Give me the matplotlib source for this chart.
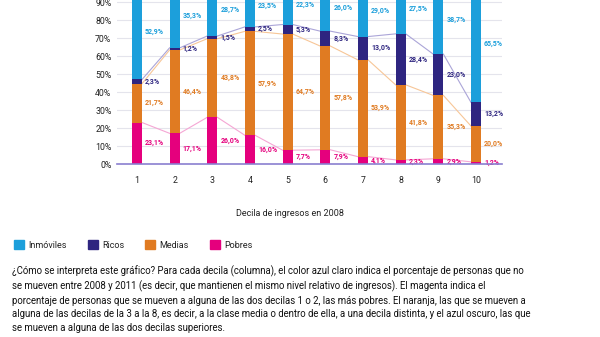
import numpy as np
import matplotlib
matplotlib.use('Agg')
import matplotlib.pyplot as plt
from matplotlib.patches import Patch

plt.rcParams['font.family'] = ['Roboto', 'DejaVu Sans']

# porcentaje de personas segun decila de ingresos en 2008
decilas = [1, 2, 3, 4, 5, 6, 7, 8, 9, 10]
pobres = [23.1, 17.1, 26.0, 16.0, 7.7, 7.9, 4.1, 2.3, 2.9, 1.2]
medias = [21.7, 46.4, 43.8, 57.9, 64.7, 57.8, 53.9, 41.8, 35.3, 20.0]
ricos = [2.3, 1.2, 1.5, 2.5, 5.3, 8.3, 13.0, 28.4, 23.0, 13.2]
inmoviles = [52.9, 35.3, 28.7, 23.5, 22.3, 26.0, 29.0, 27.5, 38.7, 65.5]
series_names = ['Inmóviles', 'Ricos', 'Medias', 'Pobres']
yticks = [0, 10, 20, 30, 40, 50, 60, 70, 80, 90, 100]

c_azul = '#1c9fdb'
c_navy = '#2e2580'
c_naranja = '#e07b22'
c_magenta = '#e5007d'
c_line = {'pobres': '#f5a6d4', 'medias': '#f7c697', 'ricos': '#aba5d8'}

fig = plt.figure(figsize=(6, 3.37), dpi=100)
ax = fig.add_axes([117/600, (337-164)/337, (502-117)/600, 179.5/337])

x = np.array(decilas, dtype=float)
w = 0.27
stack = [('pobres', pobres, c_magenta), ('medias', medias, c_naranja),
         ('ricos', ricos, c_navy), ('inmoviles', inmoviles, c_azul)]
bottom = np.zeros(len(x))
for name, vals, col in stack:
    vals = np.array(vals)
    top = bottom + vals
    ax.bar(x, vals, width=w, bottom=bottom, color=col, zorder=3, linewidth=0)
    # lineas que unen los techos de cada tramo entre columnas
    if name in c_line:
        for i in range(len(x) - 1):
            ax.plot([x[i] + w/2, x[i+1] - w/2], [top[i], top[i+1]],
                    color=c_line[name], lw=0.8, zorder=2)
    for i in range(len(x)):
        ax.text(x[i] + w/2 + 0.08, bottom[i] + vals[i]/2,
                ('%.1f%%' % vals[i]).replace('.', ','),
                color=col, fontsize=5, fontweight='bold',
                ha='left', va='center', zorder=4)
    bottom = top

ax.set_xlim(0.47, 10.69)
ax.set_ylim(0, 100)
ax.set_yticks(yticks)
ax.set_yticklabels(['%d%%' % t for t in yticks])
ax.set_xticks(x)
ax.set_xticklabels([str(d) for d in decilas])
ax.tick_params(axis='both', length=0, labelsize=6.3, colors='#222222')
ax.tick_params(axis='x', pad=8.5)
ax.tick_params(axis='y', pad=4)
ax.grid(axis='y', color='#e4e4ec', lw=0.8, zorder=0)
for s in ['top', 'right', 'left']:
    ax.spines[s].set_visible(False)
ax.spines['bottom'].set_color('#8a7fd0')
ax.spines['bottom'].set_linewidth(1.2)
ax.spines['bottom'].set_zorder(5)

fig.text(290/600, 1 - 213/337, 'Decila de ingresos en 2008', ha='center',
         va='center', fontsize=6.5, color='#222222')

handles = [Patch(color=c) for c in [c_azul, c_navy, c_naranja, c_magenta]]
fig.legend(handles, series_names, loc='center left',
           bbox_to_anchor=(6/600, 1 - 245/337), ncol=4, frameon=False,
           fontsize=6.5, handlelength=1.1, handleheight=1.1,
           handletextpad=0.5, columnspacing=2.3, labelcolor='#222222')

texto = ('¿Cómo se interpreta este gráfico? Para cada decila (columna), el color azul claro indica el porcentaje de personas que no\n'
         'se mueven entre 2008 y 2011 (es decir, que mantienen el mismo nivel relativo de ingresos). El magenta indica el\n'
         'porcentaje de personas que se mueven a alguna de las dos decilas 1 o 2, las más pobres. El naranja, las que se mueven a\n'
         'alguna de las decilas de la 3 a la 8, es decir, a la clase media o dentro de ella, a una decila distinta, y el azul oscuro, las que\n'
         'se mueven a alguna de las dos decilas superiores.')
fig.text(12/600, 1 - 265/337, texto, ha='left', va='top', fontsize=6.9,
         color='#111111', linespacing=1.45)

fig.savefig('out.png', dpi=100)
